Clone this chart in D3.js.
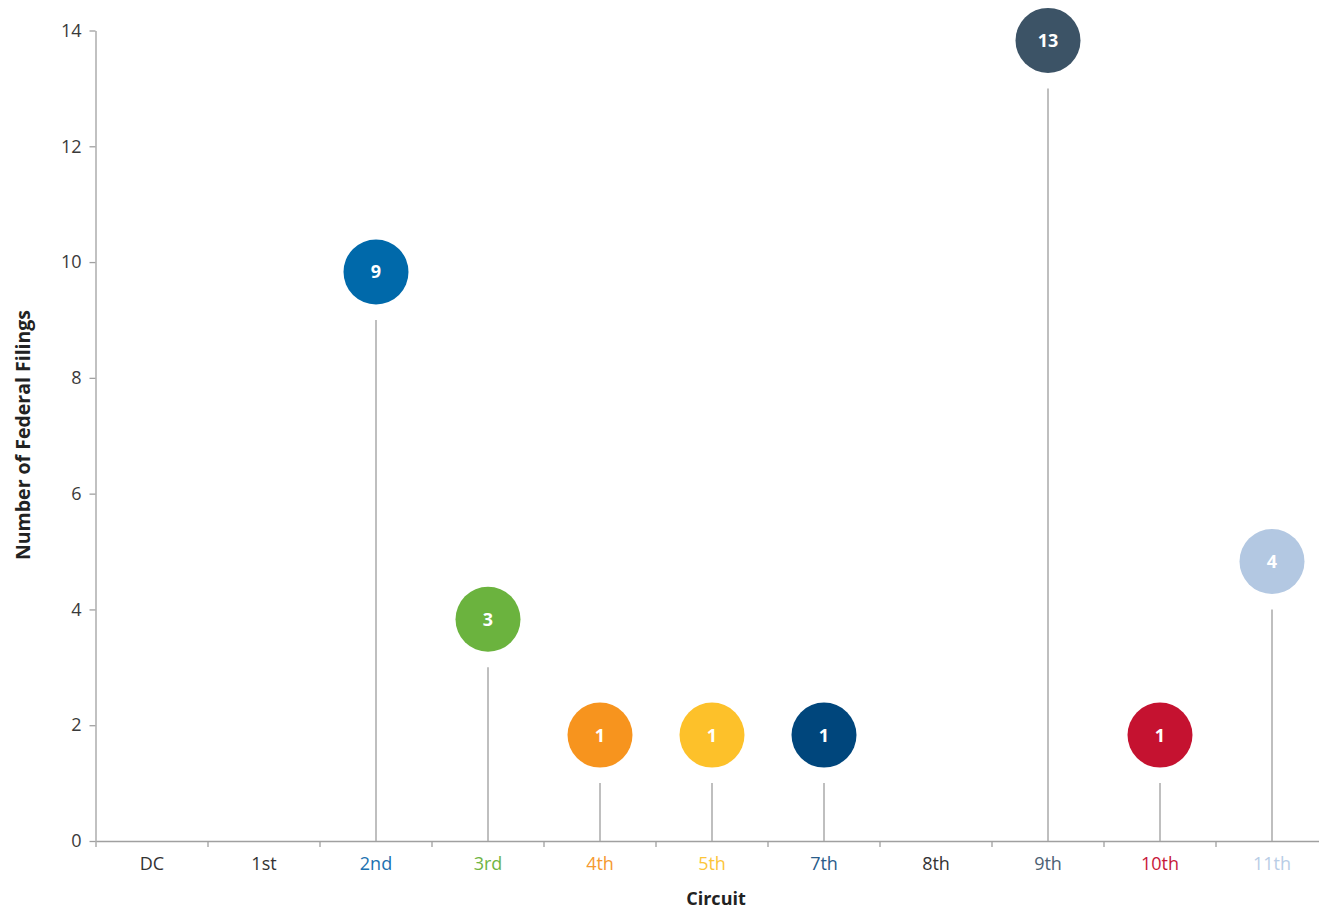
<!DOCTYPE html>
<html>
<head>
<meta charset="utf-8">
<script src="https://cdn.jsdelivr.net/npm/d3@7/dist/d3.min.js"></script>
<style>
  html, body { margin: 0; padding: 0; background: #fff; }
  svg { display: block; font-family: "Open Sans", "Noto Sans", sans-serif; }
</style>
</head>
<body>
<svg id="chart" width="1319" height="909"></svg>
<script>
// Federal filings by circuit
const circuits = ["DC", "1st", "2nd", "3rd", "4th", "5th", "7th", "8th", "9th", "10th", "11th"];
const filings  = [0, 0, 9, 3, 1, 1, 1, 0, 13, 1, 4];
const dotColors   = ["#333333", "#333333", "#0069aa", "#6bb33e", "#f7941e", "#fdc12a", "#00467c", "#333333", "#3c5366", "#c51230", "#b3c8e2"];
const labelColors = ["#333333", "#333333", "#2071b0", "#6fb544", "#f59a30", "#fcc53a", "#2a5c8a", "#333333", "#4d6173", "#c8183a", "#b9cde6"];
const yTicks = [0, 2, 4, 6, 8, 10, 12, 14];

const svg = d3.select("#chart");
const plotLeft = 95.5, plotBottom = 841, plotTop = 30.5;

const x = d3.scaleBand().domain(circuits).range([plotLeft + 0.5, plotLeft + 0.5 + 112 * circuits.length]).padding(0);
const y = d3.scaleLinear().domain([0, 14]).range([plotBottom, plotTop]);

const axisColor = "#a0a0a0";

// y axis
const yAxis = svg.append("g")
  .attr("transform", `translate(${plotLeft},0)`)
  .call(d3.axisLeft(y).tickValues(yTicks).tickSize(6).tickSizeOuter(0).tickPadding(8));
yAxis.select(".domain").attr("stroke", axisColor).attr("stroke-width", 1.3);
yAxis.selectAll(".tick line").attr("stroke", axisColor).attr("stroke-width", 1.3);
yAxis.selectAll(".tick text")
  .attr("fill", "#3a3a3a").attr("font-size", 18)
  .attr("font-family", "'Open Sans', sans-serif");

// x axis
const xAxis = svg.append("g")
  .attr("transform", `translate(0,${plotBottom})`)
  .call(d3.axisBottom(x).tickSize(0).tickSizeOuter(0).tickPadding(16));
xAxis.select(".domain").attr("stroke", axisColor).attr("stroke-width", 1.3);
xAxis.selectAll(".tick text")
  .attr("font-size", 18)
  .attr("font-family", "'Open Sans', sans-serif")
  .attr("fill", (d, i) => labelColors[i]);

// boundary ticks between categories
svg.append("g").selectAll("line")
  .data(circuits)
  .join("line")
  .attr("x1", d => x(d)).attr("x2", d => x(d))
  .attr("y1", plotBottom).attr("y2", plotBottom + 6)
  .attr("stroke", axisColor).attr("stroke-width", 1.3);

// stems
const data = circuits.map((c, i) => ({ c, v: filings[i], color: dotColors[i] }));
const shown = data.filter(d => d.v > 0);
const cx = d => x(d.c) + x.bandwidth() / 2;

svg.append("g").selectAll("line")
  .data(shown)
  .join("line")
  .attr("x1", cx).attr("x2", cx)
  .attr("y1", plotBottom).attr("y2", d => y(d.v))
  .attr("stroke", "#aaaaaa").attr("stroke-width", 1.5);

// bubbles sit a fixed distance above each stem
const lift = 48, r = 32.5;
const dots = svg.append("g").selectAll("g")
  .data(shown)
  .join("g")
  .attr("transform", d => `translate(${cx(d)},${y(d.v) - lift})`);
dots.append("circle").attr("r", r).attr("fill", d => d.color);
dots.append("text")
  .attr("text-anchor", "middle").attr("dy", "0.36em")
  .attr("fill", "#fff").attr("font-weight", 700).attr("font-size", 18)
  .text(d => d.v);

// axis titles
svg.append("text")
  .attr("x", 716).attr("y", 905)
  .attr("text-anchor", "middle")
  .attr("font-weight", 700).attr("font-size", 18).attr("fill", "#222")
  .text("Circuit");

svg.append("text")
  .attr("transform", "translate(30,435) rotate(-90)")
  .attr("text-anchor", "middle")
  .attr("font-weight", 700).attr("font-size", 19.5).attr("fill", "#222")
  .text("Number of Federal Filings");
</script>
</body>
</html>
